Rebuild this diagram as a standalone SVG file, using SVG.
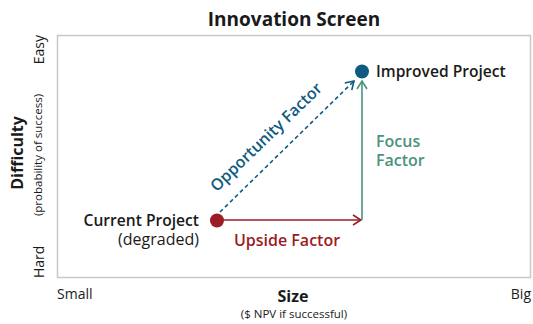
<svg xmlns="http://www.w3.org/2000/svg" width="533" height="324" viewBox="0 0 533 324">
  <style>
    text { font-family: "Open Sans", "Noto Sans", "DejaVu Sans", sans-serif; fill: #1a1a1a; }
    .title { font-size: 19px; font-weight: 700; }
    .axis-bold { font-size: 16px; font-weight: 700; }
    .axis-end { font-size: 14px; }
    .axis-sub { font-size: 11.5px; }
    .node-label { font-size: 15.6px; font-weight: 600; }
    .node-sub { font-size: 16px; }
    .red { fill: #9b1c24; }
    .blue { fill: #0e5a80; }
    .green { fill: #4b937c; }
    .factor { font-size: 16px; font-weight: 600; }
  </style>
  <defs>
    <marker id="head-red" viewBox="0 0 10 12" refX="9" refY="6" markerWidth="10" markerHeight="12" markerUnits="userSpaceOnUse" orient="auto">
      <path d="M1,1 L9,6 L1,11" fill="none" stroke="#9b1c24" stroke-width="1.6"/>
    </marker>
    <marker id="head-green" viewBox="0 0 10 12" refX="9" refY="6" markerWidth="10" markerHeight="12" markerUnits="userSpaceOnUse" orient="auto">
      <path d="M1,1 L9,6 L1,11" fill="none" stroke="#4b937c" stroke-width="1.6"/>
    </marker>
    <marker id="head-blue" viewBox="0 0 10 12" refX="9" refY="6" markerWidth="10" markerHeight="12" markerUnits="userSpaceOnUse" orient="auto">
      <path d="M1,1 L9,6 L1,11" fill="none" stroke="#0e5a80" stroke-width="1.6"/>
    </marker>
  </defs>

  <rect width="533" height="324" fill="#ffffff"/>

  <!-- chart title -->
  <text class="title" x="294" y="26" text-anchor="middle">Innovation Screen</text>

  <!-- plot frame -->
  <rect x="57.5" y="35.5" width="473" height="242" fill="none" stroke="#c8c8c8" stroke-width="1.5"/>

  <!-- vertical axis -->
  <g id="y-axis">
    <text class="axis-end" transform="translate(44,35) rotate(-90)" text-anchor="end">Easy</text>
    <text class="axis-end" transform="translate(44,278) rotate(-90)" text-anchor="start">Hard</text>
    <text class="axis-bold" transform="translate(23,153) rotate(-90)" text-anchor="middle">Difficulty</text>
    <text class="axis-sub" transform="translate(42,155) rotate(-90)" text-anchor="middle">(probability of success)</text>
  </g>

  <!-- horizontal axis -->
  <g id="x-axis">
    <text class="axis-end" x="57" y="299">Small</text>
    <text class="axis-end" x="531" y="299" text-anchor="end">Big</text>
    <text class="axis-bold" x="293" y="302" text-anchor="middle">Size</text>
    <text class="axis-sub" x="294" y="318" text-anchor="middle">($ NPV if successful)</text>
  </g>

  <!-- connectors -->
  <g id="connectors" fill="none" stroke-width="1.6">
    <line x1="217" y1="220" x2="361" y2="220" stroke="#9b1c24" marker-end="url(#head-red)"/>
    <line x1="362" y1="220" x2="362" y2="81" stroke="#4b937c" marker-end="url(#head-green)"/>
    <line x1="220" y1="212" x2="354" y2="81" stroke="#0e5a80" stroke-dasharray="4,3" marker-end="url(#head-blue)"/>
  </g>

  <!-- connector labels -->
  <g id="factor-labels">
    <text class="factor red" x="287" y="246" text-anchor="middle">Upside Factor</text>
    <text class="factor green" x="376" y="147">Focus</text>
    <text class="factor green" x="376" y="166">Factor</text>
    <text class="factor blue" transform="translate(270,141) rotate(-44)" text-anchor="middle">Opportunity Factor</text>
  </g>

  <g id="current-project">
    <circle cx="217" cy="220.5" r="7" fill="#9b1c24"/>
    <text class="node-label" x="199" y="226" text-anchor="end">Current Project</text>
    <text class="node-sub" x="199" y="245" text-anchor="end">(degraded)</text>
  </g>

  <g id="improved-project">
    <circle cx="362" cy="71.5" r="7" fill="#0e5a80"/>
    <text class="node-label" x="376" y="77">Improved Project</text>
  </g>
</svg>
